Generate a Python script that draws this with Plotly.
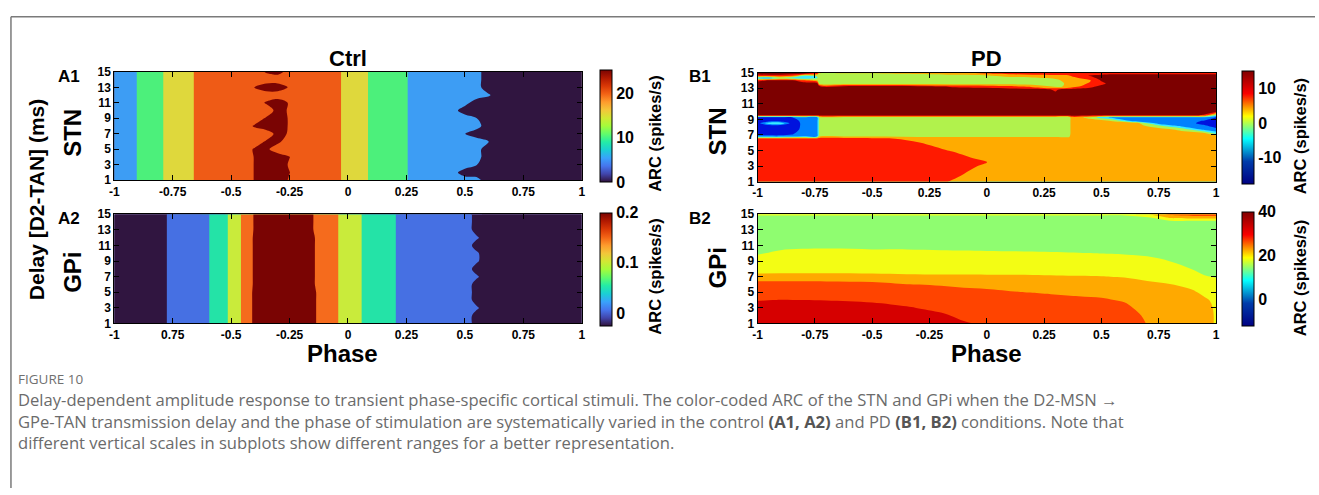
import numpy as np
import plotly.graph_objects as go
import plotly.express as px

W, H = 1319, 495
FONT = "Liberation Sans"
CAP_FONT = "Open Sans"

# ---------------- data ----------------
PHASE_A = [-1.0, -0.95, -0.9, -0.85, -0.8, -0.75, -0.7, -0.65, -0.6, -0.55, -0.5,
           -0.45, -0.4, -0.35, -0.3, -0.25, -0.2, -0.15, -0.1, -0.05, 0.0, 0.05,
           0.1, 0.15, 0.2, 0.25, 0.3, 0.35, 0.4, 0.45, 0.5, 0.55, 0.6, 0.65, 0.7,
           0.75, 0.8, 0.85, 0.9, 0.95, 1.0]
DELAY_A = [1, 2, 3, 4, 5, 6, 7, 8, 9, 10, 11, 12, 13, 14, 15]

# Ctrl / STN  ARC (spikes/s), rows = delay 1..15, cols = PHASE_A
A1_ARC = [
    [5, 5, 7.7, 10, 11.9, 15, 15, 18.1, 20, 20, 20, 20, 22.7, 25, 25, 22, 20, 20, 20, 19.2, 15, 15, 11.5, 10, 10, 7.8, 5, 5, 5, 5, 5, 4.2, 0, 0, 0, 0, 0, 0, 0, 0, 0],
    [5, 5, 7.7, 10, 11.9, 15, 15, 18.1, 20, 20, 20, 20, 22.7, 25, 25, 22.6, 20, 20, 20, 19.2, 15, 15, 11.5, 10, 10, 7.8, 5, 5, 5, 4.2, 0, 0, 0, 0, 0, 0, 0, 0, 0, 0, 0],
    [5, 5, 7.7, 10, 11.9, 15, 15, 18.1, 20, 20, 20, 20, 22.7, 25, 25, 22, 20, 20, 20, 19.2, 15, 15, 11.5, 10, 10, 7.8, 5, 5, 5, 5, 5, 2.6, 0, 0, 0, 0, 0, 0, 0, 0, 0],
    [5, 5, 7.7, 10, 11.9, 15, 15, 18.1, 20, 20, 20, 20, 22.7, 25, 25, 22.6, 20, 20, 20, 19.2, 15, 15, 11.5, 10, 10, 7.8, 5, 5, 5, 5, 5, 4.2, 0, 0, 0, 0, 0, 0, 0, 0, 0],
    [5, 5, 7.7, 10, 11.9, 15, 15, 18.1, 20, 20, 20, 20, 23, 23.5, 20, 20, 20, 20, 20, 19.2, 15, 15, 11.5, 10, 10, 7.8, 5, 5, 5, 5, 5, 4.2, 0, 0, 0, 0, 0, 0, 0, 0, 0],
    [5, 5, 7.7, 10, 11.9, 15, 15, 18.1, 20, 20, 20, 20, 20, 23, 23.5, 20, 20, 20, 20, 19.2, 15, 15, 11.5, 10, 10, 7.8, 5, 5, 5, 5, 5, 5, 2.6, 0, 0, 0, 0, 0, 0, 0, 0],
    [5, 5, 7.7, 10, 11.9, 15, 15, 18.1, 20, 20, 20, 20, 20, 20, 24, 22, 20, 20, 20, 19.2, 15, 15, 11.5, 10, 10, 7.8, 5, 5, 5, 5, 2.6, 0, 0, 0, 0, 0, 0, 0, 0, 0, 0],
    [5, 5, 7.7, 10, 11.9, 15, 15, 18.1, 20, 20, 20, 20, 23, 25, 25, 22, 20, 20, 20, 19.2, 15, 15, 11.5, 10, 10, 7.8, 5, 5, 5, 5, 5, 4.2, 0, 0, 0, 0, 0, 0, 0, 0, 0],
    [5, 5, 7.7, 10, 11.9, 15, 15, 18.1, 20, 20, 20, 20, 20, 23, 25, 22, 20, 20, 20, 19.2, 15, 15, 11.5, 10, 10, 7.8, 5, 5, 5, 5, 5, 2.6, 0, 0, 0, 0, 0, 0, 0, 0, 0],
    [5, 5, 7.7, 10, 11.9, 15, 15, 18.1, 20, 20, 20, 20, 20, 20, 24, 22, 20, 20, 20, 19.2, 15, 15, 11.5, 10, 10, 7.8, 5, 5, 5, 4.2, 0, 0, 0, 0, 0, 0, 0, 0, 0, 0, 0],
    [5, 5, 7.7, 10, 11.9, 15, 15, 18.1, 20, 20, 20, 20, 20, 23, 25, 22, 20, 20, 20, 19.2, 15, 15, 11.5, 10, 10, 7.8, 5, 5, 5, 5, 4.2, 0, 0, 0, 0, 0, 0, 0, 0, 0, 0],
    [5, 5, 7.7, 10, 11.9, 15, 15, 18.1, 20, 20, 20, 20, 20, 20, 20, 20, 20, 20, 20, 19.2, 15, 15, 11.5, 10, 10, 7.8, 5, 5, 5, 5, 5, 5, 3.1, 0, 0, 0, 0, 0, 0, 0, 0],
    [5, 5, 7.7, 10, 11.9, 15, 15, 18.1, 20, 20, 20, 20, 22.7, 25, 25, 22, 20, 20, 20, 19.2, 15, 15, 11.5, 10, 10, 7.8, 5, 5, 5, 5, 5, 4.2, 0, 0, 0, 0, 0, 0, 0, 0, 0],
    [5, 5, 7.7, 10, 11.9, 15, 15, 18.1, 20, 20, 20, 20, 20, 20, 20, 20, 20, 20, 20, 19.2, 15, 15, 11.5, 10, 10, 7.8, 5, 5, 5, 5, 5, 4.2, 0, 0, 0, 0, 0, 0, 0, 0, 0],
    [5, 5, 7.7, 10, 11.9, 15, 15, 18.1, 20, 20, 20, 20, 20, 23, 24, 21, 20, 20, 20, 19.2, 15, 15, 11.5, 10, 10, 7.8, 5, 5, 5, 5, 5, 4.2, 0, 0, 0, 0, 0, 0, 0, 0, 0],
]

# Ctrl / GPi  ARC (spikes/s), rows = delay 1..15, cols = PHASE_A
A2_ARC = [
    [-0.02, -0.02, -0.02, -0.02, -0.02, 0.02, 0.02, 0.02, 0.037, 0.06, 0.088, 0.126, 0.1684, 0.18, 0.18, 0.18, 0.18, 0.1676, 0.14, 0.124, 0.1, 0.084, 0.06, 0.06, 0.042, 0.02, 0.02, 0.02, 0.02, 0.02, 0.02, -0.013, -0.02, -0.02, -0.02, -0.02, -0.02, -0.02, -0.02, -0.02, -0.02],
    [-0.02, -0.02, -0.02, -0.02, -0.02, 0.02, 0.02, 0.02, 0.037, 0.06, 0.088, 0.126, 0.1684, 0.18, 0.18, 0.18, 0.18, 0.1676, 0.14, 0.124, 0.1, 0.084, 0.06, 0.06, 0.042, 0.02, 0.02, 0.02, 0.02, 0.02, 0.02, -0.013, -0.02, -0.02, -0.02, -0.02, -0.02, -0.02, -0.02, -0.02, -0.02],
    [-0.02, -0.02, -0.02, -0.02, -0.02, 0.02, 0.02, 0.02, 0.037, 0.06, 0.088, 0.126, 0.1684, 0.18, 0.18, 0.18, 0.18, 0.1676, 0.14, 0.124, 0.1, 0.084, 0.06, 0.06, 0.042, 0.02, 0.02, 0.02, 0.02, 0.02, 0.02, 0.005, -0.02, -0.02, -0.02, -0.02, -0.02, -0.02, -0.02, -0.02, -0.02],
    [-0.02, -0.02, -0.02, -0.02, -0.02, 0.02, 0.02, 0.02, 0.037, 0.06, 0.088, 0.126, 0.1684, 0.18, 0.18, 0.18, 0.18, 0.1676, 0.14, 0.124, 0.1, 0.084, 0.06, 0.06, 0.042, 0.02, 0.02, 0.02, 0.02, 0.02, 0.02, -0.013, -0.02, -0.02, -0.02, -0.02, -0.02, -0.02, -0.02, -0.02, -0.02],
    [-0.02, -0.02, -0.02, -0.02, -0.02, 0.02, 0.02, 0.02, 0.037, 0.06, 0.088, 0.126, 0.1684, 0.18, 0.18, 0.18, 0.18, 0.1676, 0.14, 0.124, 0.1, 0.084, 0.06, 0.06, 0.042, 0.02, 0.02, 0.02, 0.02, 0.02, 0.02, -0.013, -0.02, -0.02, -0.02, -0.02, -0.02, -0.02, -0.02, -0.02, -0.02],
    [-0.02, -0.02, -0.02, -0.02, -0.02, 0.02, 0.02, 0.02, 0.037, 0.06, 0.088, 0.126, 0.166, 0.18, 0.18, 0.18, 0.18, 0.164, 0.14, 0.124, 0.1, 0.084, 0.06, 0.06, 0.042, 0.02, 0.02, 0.02, 0.02, 0.02, 0.02, -0.013, -0.02, -0.02, -0.02, -0.02, -0.02, -0.02, -0.02, -0.02, -0.02],
    [-0.02, -0.02, -0.02, -0.02, -0.02, 0.02, 0.02, 0.02, 0.037, 0.06, 0.088, 0.126, 0.166, 0.18, 0.18, 0.18, 0.18, 0.164, 0.14, 0.124, 0.1, 0.084, 0.06, 0.06, 0.042, 0.02, 0.02, 0.02, 0.02, 0.02, 0.02, 0.005, -0.02, -0.02, -0.02, -0.02, -0.02, -0.02, -0.02, -0.02, -0.02],
    [-0.02, -0.02, -0.02, -0.02, -0.02, 0.02, 0.02, 0.02, 0.037, 0.06, 0.088, 0.126, 0.166, 0.18, 0.18, 0.18, 0.18, 0.164, 0.14, 0.124, 0.1, 0.084, 0.06, 0.06, 0.042, 0.02, 0.02, 0.02, 0.02, 0.02, 0.02, -0.013, -0.02, -0.02, -0.02, -0.02, -0.02, -0.02, -0.02, -0.02, -0.02],
    [-0.02, -0.02, -0.02, -0.02, -0.02, 0.02, 0.02, 0.02, 0.037, 0.06, 0.088, 0.126, 0.166, 0.18, 0.18, 0.18, 0.18, 0.164, 0.14, 0.124, 0.1, 0.084, 0.06, 0.06, 0.042, 0.02, 0.02, 0.02, 0.02, 0.02, 0.02, 0.005, -0.02, -0.02, -0.02, -0.02, -0.02, -0.02, -0.02, -0.02, -0.02],
    [-0.02, -0.02, -0.02, -0.02, -0.02, 0.02, 0.02, 0.02, 0.037, 0.06, 0.088, 0.126, 0.166, 0.18, 0.18, 0.18, 0.18, 0.164, 0.14, 0.124, 0.1, 0.084, 0.06, 0.06, 0.042, 0.02, 0.02, 0.02, 0.02, 0.02, 0.02, 0.005, -0.02, -0.02, -0.02, -0.02, -0.02, -0.02, -0.02, -0.02, -0.02],
    [-0.02, -0.02, -0.02, -0.02, -0.02, 0.02, 0.02, 0.02, 0.037, 0.06, 0.088, 0.126, 0.166, 0.18, 0.18, 0.18, 0.18, 0.164, 0.14, 0.124, 0.1, 0.084, 0.06, 0.06, 0.042, 0.02, 0.02, 0.02, 0.02, 0.02, 0.02, -0.013, -0.02, -0.02, -0.02, -0.02, -0.02, -0.02, -0.02, -0.02, -0.02],
    [-0.02, -0.02, -0.02, -0.02, -0.02, 0.02, 0.02, 0.02, 0.037, 0.06, 0.088, 0.126, 0.166, 0.18, 0.18, 0.18, 0.18, 0.164, 0.14, 0.124, 0.1, 0.084, 0.06, 0.06, 0.042, 0.02, 0.02, 0.02, 0.02, 0.02, 0.02, 0.005, -0.02, -0.02, -0.02, -0.02, -0.02, -0.02, -0.02, -0.02, -0.02],
    [-0.02, -0.02, -0.02, -0.02, -0.02, 0.02, 0.02, 0.02, 0.037, 0.06, 0.088, 0.126, 0.1636, 0.18, 0.18, 0.18, 0.18, 0.1608, 0.14, 0.124, 0.1, 0.084, 0.06, 0.06, 0.042, 0.02, 0.02, 0.02, 0.02, 0.02, 0.02, -0.013, -0.02, -0.02, -0.02, -0.02, -0.02, -0.02, -0.02, -0.02, -0.02],
    [-0.02, -0.02, -0.02, -0.02, -0.02, 0.02, 0.02, 0.02, 0.037, 0.06, 0.088, 0.126, 0.1636, 0.18, 0.18, 0.18, 0.18, 0.1608, 0.14, 0.124, 0.1, 0.084, 0.06, 0.06, 0.042, 0.02, 0.02, 0.02, 0.02, 0.02, 0.02, -0.013, -0.02, -0.02, -0.02, -0.02, -0.02, -0.02, -0.02, -0.02, -0.02],
    [-0.02, -0.02, -0.02, -0.02, -0.02, 0.02, 0.02, 0.02, 0.037, 0.06, 0.088, 0.126, 0.1636, 0.18, 0.18, 0.18, 0.18, 0.1608, 0.14, 0.124, 0.1, 0.084, 0.06, 0.06, 0.042, 0.02, 0.02, 0.02, 0.02, 0.02, 0.02, -0.013, -0.02, -0.02, -0.02, -0.02, -0.02, -0.02, -0.02, -0.02, -0.02],
]

# PD / STN
PHASE_B1 = [-1.0, -0.95, -0.9, -0.85, -0.8, -0.74, -0.73, -0.6, -0.45, -0.3, -0.15, 0.0,
            0.1, 0.2, 0.3, 0.36, 0.37, 0.45, 0.5, 0.55, 0.65, 0.75, 0.85, 0.95, 1.0]
DELAY_B1 = [1, 2, 3, 3.5, 4, 5, 6, 6.5, 6.85, 7.2, 7.7, 8.2, 8.5, 8.8, 9.25, 9.55,
            10, 11.5, 12.8, 13.2, 13.6, 14.0, 14.3, 14.6, 14.85, 15]
B1_ARC = [
    [9, 9, 9, 9, 9, 9, 9, 9, 9, 9, 6.1, 4, 4, 4, 4, 4, 4, 4, 4, 4, 4, 4, 4, 4, 4],
    [9, 9, 9, 9, 9, 9, 9, 9, 9, 9, 7.75, 4, 4, 4, 4, 4, 4, 4, 4, 4, 4, 4, 4, 4, 4],
    [9, 9, 9, 9, 9, 9, 9, 9, 9, 9, 9, 5.6, 4, 4, 4, 4, 4, 4, 4, 4, 4, 4, 4, 4, 4],
    [9, 9, 9, 9, 9, 9, 9, 9, 9, 9, 9, 6.6, 4, 4, 4, 4, 4, 4, 4, 4, 4, 4, 4, 4, 4],
    [9, 9, 9, 9, 9, 9, 9, 9, 9, 9, 9, 4.85, 4, 4, 4, 4, 4, 4, 4, 4, 4, 4, 4, 4, 4],
    [9, 9, 9, 9, 9, 9, 9, 9, 9, 9, 6.1, 4, 4, 4, 4, 4, 4, 4, 4, 4, 4, 4, 4, 4, 4],
    [9, 9, 9, 9, 9, 9, 9, 9, 9, 6.75, 4, 4, 4, 4, 4, 4, 4, 4, 4, 4, 4, 4, 4, 4, 4],
    [9, 9, 9, 9, 9, 9, 9, 9, 7.75, 4, 4, 4, 4, 4, 4, 4, 4, 4, 4, 4, 4, 4, 4, 4, 4],
    [-12.5, -12.5, -12.5, -12, -10, -10, 0.5, 0.5, 0.5, 0.5, 0.5, 0.5, 0.5, 0.5, 0.5, 0.5, 4, 4, 4, 4, 4, 4, 4, 4, 4],
    [-16, -16, -16, -14.5, -10, -10, -1, -1, -1, -1, -1, -1, -1, -1, -1, -1, 4, 4, 4, 4, 4, 4, 4, 3, -5],
    [-16, -16, -16, -16, -12, -10, -1, -1, -1, -1, -1, -1, -1, -1, -1, -1, 4, 4, 4, 4, 4, 4, 0, -10, -12],
    [-16, -16, -16, -16, -12.5, -10, -1, -1, -1, -1, -1, -1, -1, -1, -1, -1, 4, 4, 4, 4, 4, -3, -11, -13, -16],
    [-16, -5, -4, -16, -12.5, -10, -1, -1, -1, -1, -1, -1, -1, -1, -1, -1, 4, 4, 4, 4, 4, -11, -11, -15, -16],
    [-16, -16, -16, -16, -12, -10, -1, -1, -1, -1, -1, -1, -1, -1, -1, -1, 4, 4, 4, 1, -11, -11, -11, -14, -16],
    [-14.5, -14.5, -14.5, -14, -10, -10, -1, -1, -1, -1, -1, -1, -1, -1, -1, -1, 4, 0, -6, -10, -11, -11, -10, -10, -14],
    [14, 14, 14, 14, 14, 14, 14, 14, 14, 14, 14, 14, 14, 14, 14, 14, 14, 14, 14, 14, 14, 14, 14, 11, -3],
    [14, 14, 14, 14, 14, 14, 14, 14, 14, 14, 14, 14, 14, 14, 14, 14, 14, 14, 14, 14, 14, 14, 14, 14, 14],
    [14, 14, 14, 14, 14, 14, 14, 14, 14, 14, 14, 14, 14, 14, 14, 14, 14, 14, 14, 14, 14, 14, 14, 14, 14],
    [14, 14, 14, 14, 14, 14, 14, 14, 14, 14, 14, 14, 14, 14, 11, 14, 14, 14, 14, 14, 14, 14, 14, 14, 14],
    [14, 14, 14, 14, 14, 14, 14, 14, 14, 13, 11, 10, 8, 5, 1, 2, 4, 10, 13, 14, 14, 14, 14, 14, 14],
    [14, 14, 14, 14, 14, 14, -1, -1, -1, -1, -1, -1, -1, -1, -1, 3, 4, 7, 10, 14, 14, 14, 14, 14, 14],
    [10, 12, 13, 12, 8, 2, -1, -1, -1, -1, -1, -1, -1, -1, 0, 4, 4, 6, 12, 14, 14, 14, 14, 14, 14],
    [-9, -11, -4, -6, -8, -4, -1, -1, -1, -1, -1, -1, 0, 0.5, 2.5, 4, 5, 9, 14, 14, 14, 14, 14, 14, 14],
    [9, 10, 10, 7, -3, -3, -1, -1, -1, -1, 0, 1, 3, 4, 5, 6, 7, 12, 14, 14, 14, 14, 14, 14, 14],
    [13, 13, 13, 13, 12, 8, 0, 0, 0.5, 2, 3.5, 6, 7.5, 9, 9, 9, 9, 9, 9, 10.5, 10.5, 10.5, 10.5, 10.5, 10.5],
    [14, 14, 14, 14, 14, 12, 4, 4, 4, 7, 9, 9, 9, 10, 10, 10, 10, 10, 10, 10, 10, 10, 10, 10, 10],
]

# PD / GPi  (listed per phase column, delay bottom to top)
PHASE_B2 = [-1.0, -0.9, -0.7, -0.5, -0.35, -0.2, -0.1, 0.0, 0.2, 0.4, 0.5, 0.6, 0.7,
            0.8, 0.9, 0.95, 1.0]
DELAY_B2 = [1, 2, 3, 4, 5, 6, 7, 8, 9, 10, 11, 12, 13, 14, 14.6, 15]
B2_ARC_BY_PHASE = [
    [35, 35, 34.3, 32.3, 31, 29.5, 24.5, 19.5, 18.5, 17.25, 15.5, 15, 15, 15, 15, 19],
    [35, 35, 34.75, 32.6, 30.5, 29.5, 24.5, 20, 19, 18, 16.75, 15, 15, 15, 15, 19],
    [35, 35, 34.5, 32.4, 30.5, 29.4, 24.4, 20, 19, 18.1, 17.1, 15, 15, 15, 15, 19],
    [35, 35, 33.85, 31.9, 30, 29, 24.15, 20, 19, 18, 17, 15, 15, 15, 15, 19],
    [35, 34.55, 32.85, 31.1, 29.4, 27.65, 23.8, 19.75, 18.9, 18, 17, 15, 15, 15, 15, 19],
    [34.55, 33.1, 31.6, 30.15, 28.7, 27.25, 23.45, 20.05, 19, 17.9, 16.9, 15, 15, 15, 15, 19],
    [32.85, 31.7, 30.5, 29.35, 28.2, 27, 23.3, 20.35, 19.25, 17.85, 16.85, 15, 15, 15, 15, 19],
    [32, 31, 30, 29, 27.95, 26.9, 23.2, 20.4, 19.25, 17.8, 16.8, 15, 15, 15, 15, 19],
    [31.5, 31.5, 31.5, 29.65, 27.4, 25.15, 22.9, 21.15, 19.5, 17.85, 16.2, 15, 15, 15, 15, 19],
    [31.5, 31.5, 30.4, 28.45, 26.55, 24.6, 22.7, 20.95, 19.3, 17.6, 15.9, 15, 15, 15, 15, 19],
    [31.5, 31.5, 29.85, 28.05, 26.25, 24.4, 22.6, 20.9, 19.2, 17.45, 15.8, 15, 15, 15, 15, 19],
    [31.5, 30.15, 28.6, 27.05, 25.45, 23.9, 22.35, 20.65, 18.95, 17.25, 15.55, 15, 15, 15, 15, 19],
    [27.25, 26.6, 25.7, 24.8, 23.95, 23.05, 21.85, 20.15, 18.5, 16.85, 15.15, 15, 15, 15, 17, 22],
    [27, 27, 27, 26.1, 24.4, 22.65, 20.95, 19.2, 17.45, 15.75, 15, 15, 15, 15, 23.5, 29],
    [27, 27, 26.9, 25, 23.1, 21.15, 19.25, 17.3, 15.4, 15, 15, 15, 15, 15, 24.5, 31],
    [26.5, 26.5, 25, 23.2, 21.45, 19.65, 17.85, 16.05, 15, 15, 15, 15, 15, 15, 24.5, 31],
    [21.5, 21.5, 21.5, 21.5, 21, 19.25, 17.25, 15.5, 15, 15, 15, 15, 15, 15, 24.5, 31],
]

PHASE_TICKS = [-1, -0.75, -0.5, -0.25, 0, 0.25, 0.5, 0.75, 1]
A1_TICKTEXT = ["-1", "-0.75", "-0.5", "-0.25", "0", "0.25", "0.5", "0.75", "1"]
A2_TICKTEXT = ["-1", "0.75", "-0.5", "-0.25", "0", "0.25", "0.5", "0.75", "1"]
B1_TICKTEXT = ["-1", "-0.75", "-0.5", "0.25", "0", "0.25", "0.5", "0.75", "1"]
B2_TICKTEXT = ["-1", "-0.75", "-0.5", "-0.25", "0", "0.25", "0.5", "0.75", "1"]
DELAY_TICKS = [1, 3, 5, 7, 9, 11, 13, 15]

# contour band levels (start, end, size) and the band colours seen in the picture
A1_LEVELS = (2.5, 22.5, 5)
A2_LEVELS = (0.0, 0.16, 0.04)
B1_LEVELS = (-13.5, 11.5, 5)
B2_LEVELS = (17.5, 32.5, 5)
A1_BANDS = ["#301540", "#3d9df4", "#4cf07b", "#dfd83c", "#ef5b16", "#7a0403"]
A2_BANDS = ["#301540", "#4670e3", "#24e3a7", "#c9eb3b", "#f56b1d", "#7a0403"]
B1_BANDS = ["#0012de", "#0082ff", "#38ecff", "#b1f24c", "#ffab00", "#ff1a00", "#7d0000"]
B2_BANDS = ["#8ffd70", "#f3fd14", "#ffa900", "#ff4400", "#d60000"]

# colour-bar ranges / ticks
A1_CB = (0, 25.2, [0, 10, 20], ["0", "10", "20"])
A2_CB = (-0.025, 0.2, [0, 0.1, 0.2], ["0", "0.1", "0.2"])
B1_CB = (-17.7, 14.8, [-10, 0, 10], ["-10", "0", "10"])
B2_CB = (-12, 40, [0, 20, 40], ["0", "20", "40"])

CAPTION_LINES = [
    "Delay-dependent amplitude response to transient phase-specific cortical stimuli. "
    "The color-coded ARC of the STN and GPi when the D2-MSN →",
    "GPe-TAN transmission delay and the phase of stimulation are systematically varied in the "
    "control <b><span style='color:#555555'>(A1, A2)</span></b> and PD "
    "<b><span style='color:#555555'>(B1, B2)</span></b> conditions. Note that",
    "different vertical scales in subplots show different ranges for a better representation.",
]


# ---------------- figure ----------------
def px_x(p):
    return p / W


def px_y(p):
    return 1 - p / H


fig = go.Figure()

panels = [
    ("", PHASE_A, DELAY_A, A1_ARC, A1_LEVELS, A1_BANDS, px.colors.sequential.Turbo, A1_CB, A1_TICKTEXT,
     (110, 580.7, 66.7, 178.3), (599, 66.7, 178.3)),
    ("2", PHASE_A, DELAY_A, A2_ARC, A2_LEVELS, A2_BANDS, px.colors.sequential.Turbo, A2_CB, A2_TICKTEXT,
     (110, 580.7, 213.3, 325.7), (599, 213.3, 326.3)),
    ("3", PHASE_B1, DELAY_B1, B1_ARC, B1_LEVELS, B1_BANDS, "Jet", B1_CB, B1_TICKTEXT,
     (757.7, 1219.3, 67.5, 179.8), (1245, 68, 181)),
    ("4", PHASE_B2, DELAY_B2, np.array(B2_ARC_BY_PHASE).T.tolist(), B2_LEVELS, B2_BANDS, "Jet", B2_CB,
     B2_TICKTEXT, (757.7, 1219.3, 213.3, 325.7), (1245, 212.5, 326)),
]

axis_style = dict(
    showgrid=False, zeroline=False, showline=True, linecolor="black", linewidth=1,
    mirror="ticks", ticks="inside", ticklen=5, tickwidth=1, tickcolor="black",
    tickfont=dict(family=FONT, size=12, color="black", weight="bold"),
)

layout_axes = {}
for suf, xs, ys, z, lev, bands, cbscale, cb, ttext, box, cbbox in panels:
    xa, ya = "x" + suf, "y" + suf
    zmin, zmax, cbt, cbtt = cb
    cb_x, cb_y0, cb_y1 = cbbox
    # continuous colour bar (the heatmap lies beneath the filled contours)
    fig.add_trace(go.Heatmap(
        x=xs, y=ys, z=z, xaxis=xa, yaxis=ya, colorscale=cbscale, zmin=zmin, zmax=zmax,
        hoverinfo="skip",
        colorbar=dict(
            x=px_x(cb_x), xanchor="left", xpad=0,
            y=px_y((cb_y0 + cb_y1) / 2), yanchor="middle", ypad=0,
            len=cb_y1 - cb_y0, lenmode="pixels", thickness=12, thicknessmode="pixels",
            outlinewidth=1, outlinecolor="black", ticks="", tickvals=cbt, ticktext=cbtt,
            tickfont=dict(family=FONT, size=16, color="black", weight="bold"),
        ),
    ))
    n = len(bands)
    fig.add_trace(go.Contour(
        x=xs, y=ys, z=z, xaxis=xa, yaxis=ya, autocontour=False,
        contours=dict(start=lev[0], end=lev[1], size=lev[2], coloring="fill", showlines=False),
        line=dict(width=0), colorscale=[[i / (n - 1), c] for i, c in enumerate(bands)],
        showscale=False, hoverinfo="skip",
    ))
    x0, x1, y0, y1 = box
    layout_axes["xaxis" + suf] = dict(axis_style, domain=[px_x(x0), px_x(x1)], range=[-1, 1],
                                      anchor=ya, tickvals=PHASE_TICKS, ticktext=ttext)
    layout_axes["yaxis" + suf] = dict(axis_style, domain=[px_y(y1), px_y(y0)], range=[1, 15],
                                      anchor=xa, tickvals=DELAY_TICKS)

fig.update_layout(**layout_axes)


def label(text, xp, yp, size, angle=0, color="black", weight="bold", family=FONT, xanchor="center",
          align="center"):
    return dict(text=text, x=px_x(xp), y=px_y(yp), xref="paper", yref="paper", showarrow=False,
                xanchor=xanchor, yanchor="middle", textangle=angle, align=align, borderpad=0,
                font=dict(family=family, size=size, color=color, weight=weight))


annotations = [
    label("Ctrl", 345.4, 53, 22),
    label("PD", 988.5, 53, 22),
    label("A1", 64, 71.5, 17),
    label("A2", 64, 218, 17),
    label("B1", 700, 72, 17),
    label("B2", 700, 218, 17),
    label("STN", 68, 130, 24, angle=-90),
    label("GPi", 68, 273, 24, angle=-90),
    label("STN", 717, 128, 24, angle=-90),
    label("GPi", 717, 269, 24, angle=-90),
    label("Delay [D2-TAN] (ms)", 32, 198, 21, angle=-90),
    label("Phase", 340, 357, 24),
    label("Phase", 988, 357, 24),
    label("ARC (spikes/s)", 655, 131, 16.5, angle=-90),
    label("ARC (spikes/s)", 655, 278, 16.5, angle=-90),
    label("ARC (spikes/s)", 1304, 133, 16.5, angle=-90),
    label("ARC (spikes/s)", 1304, 279, 16.5, angle=-90),
    label("FIGURE 10", 12, 383, 13.5, color="#707070", weight="normal", family=CAP_FONT, xanchor="left"),
    label("<br>".join(CAPTION_LINES), 12, 426.5, 16.6, color="#6b6b6b", weight="normal",
          family=CAP_FONT, xanchor="left", align="left"),
]

shapes = [
    dict(type="line", xref="paper", yref="paper", x0=px_x(6), x1=1, y0=px_y(10), y1=px_y(10),
         line=dict(color="#7a7a7a", width=1.5)),
    dict(type="line", xref="paper", yref="paper", x0=px_x(6), x1=px_x(6), y0=px_y(10), y1=0,
         line=dict(color="#7a7a7a", width=1.5)),
]

fig.update_layout(
    width=W, height=H, margin=dict(l=0, r=0, t=0, b=0),
    paper_bgcolor="white", plot_bgcolor="white", showlegend=False,
    annotations=annotations, shapes=shapes,
)

fig.write_html(
    "out.html",
    config={"displayModeBar": False},
    post_script="document.body.style.margin='0px';document.body.style.overflow='hidden';",
)
